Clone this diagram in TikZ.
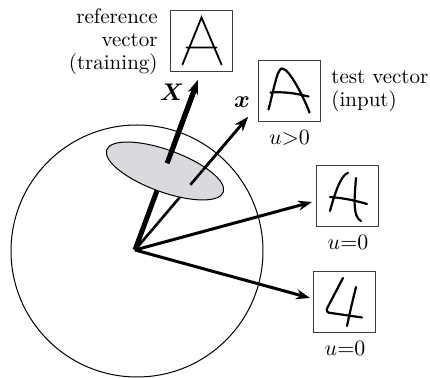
\documentclass[tikz,border=0pt]{standalone}
\usepackage{amsmath,bm}
\usetikzlibrary{arrows.meta,positioning,shapes.geometric,calc}
\definecolor{spDisc} {RGB}{217,218,221}
\definecolor{spFrame}{RGB}{ 60, 60, 60}

\begin{document}
\begin{tikzpicture}[
  x=0.5pt,y=-0.5pt,
  font=\fontsize{10.5}{11.4}\selectfont,
  >={Stealth[length=7pt,width=5pt]},
  digitbox/.style={draw=spFrame,line width=0.5pt,minimum width=31pt,
               minimum height=30.5pt,inner sep=0pt},
  vec/.style={->,line width=1.5pt},
  refvec/.style={->,line width=2.5pt},
  stroke/.style={line width=1.1pt,line cap=round,line join=round},
  ulabel/.style={below=3.5pt of #1,inner sep=0pt},
]
\useasboundingbox (0,0) rectangle (430,378);
\node[circle,draw,line width=0.5pt,minimum size=126pt,inner sep=0pt] (sphere) at (137,251) {};

\node[digitbox] (ref)   at (201.5,41.5) {};
\node[digitbox] (test)  at (289.5,91.5) {};
\node[digitbox] (cand3) at (348,196.5) {};
\node[digitbox] (cand4) at (345,302.5) {};

\node[left=6pt of ref,align=right,inner sep=0pt] (reflbl) {reference\\vector\\(training)};
\node[right=5pt of test,align=left,inner sep=0pt] (testlbl) {test vector\\(input)};
\node (Xlbl) at (172,92) {\large$\boldsymbol{X}$};
\node (xlbl) at (242,102) {\large$\boldsymbol{x}$};
\node[ulabel=test]  (utest)  {$u{>}0$};
\node[ulabel=cand3] (ucand3) {$u{=}0$};
\node[ulabel=cand4] (ucand4) {$u{=}0$};

\begin{scope}[shift={(ref.center)}]
  \draw[stroke,line width=0.9pt,line join=miter] (-19,23) -- (0,-24) -- (20,23) (-15,6) -- (15,6);
\end{scope}
\begin{scope}[shift={(test.center)}]
  \draw[stroke] (-21,18) .. controls (-15,-5) and (-12,-24) .. (-7,-23)
                .. controls (0,-22) and (14,5) .. (20,21);
  \draw[stroke] (-19,1) .. controls (0,0) and (10,3) .. (19,5);
\end{scope}
\begin{scope}[shift={(cand3.center)}]
  \draw[stroke] (-18,14.5) .. controls (-12,-8) and (-6,-22) .. (0,-23.5);
  \draw[stroke] (-18,0.5) .. controls (0,2) and (10,5) .. (19,7.5);
  \draw[stroke] (8,-18.5) .. controls (6,5) and (5,20) .. (13,24.5);
\end{scope}
\begin{scope}[shift={(cand4.center)}]
  \draw[stroke] (-2,-24.5) .. controls (-10,-10) .. (-18,6)
                .. controls (-19,9) and (-17,10.5) .. (-14,10.5) -- (17,15);
  \draw[stroke] (11,-15.5) .. controls (6,5) .. (2,23.5);
\end{scope}

\coordinate (O) at (135,250);
\coordinate (tipX) at (198,80);
\coordinate (tipx) at (248,117);
\coordinate (tip3) at (312,202);
\coordinate (tip4) at (310,298);
\draw[refvec] (O) -- (tipX);
\draw[vec,line width=1.3pt] (O) -- (tipx);
\draw[vec] (O) -- (tip3);
\draw[vec] (O) -- (tip4);
\node[ellipse,draw,line width=0.5pt,fill=spDisc,minimum width=62pt,minimum height=21pt,
      inner sep=0pt,rotate=-20] (disc) at (165,171) {};
\draw[refvec] ($(O)!0.51!(tipX)$) -- (tipX);
\draw[vec,line width=1.3pt] ($(O)!0.49!(tipx)$) -- (tipx);
\end{tikzpicture}
\end{document}
